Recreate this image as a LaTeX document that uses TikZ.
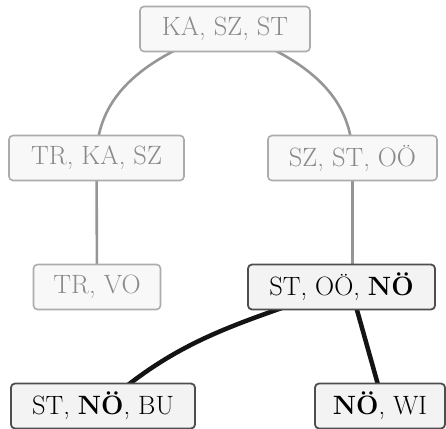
\documentclass[tikz,border=0pt]{standalone}
\usepackage{tikz}
\usetikzlibrary{backgrounds}
\begin{document}
\begin{tikzpicture}[x=1pt,y=-1pt,
  box/.style={rectangle, rounded corners=4pt, minimum height=45pt, inner xsep=0pt,
    font=\fontsize{26.5}{30}\selectfont},
  faded/.style={box, draw={rgb,255:red,172;green,172;blue,172}, line width=1.6pt,
    fill={rgb,255:red,248;green,248;blue,248}, text={rgb,255:red,138;green,138;blue,138}},
  active/.style={box, draw={rgb,255:red,78;green,78;blue,78}, line width=1.8pt,
    fill={rgb,255:red,243;green,243;blue,243}, text=black},
  fadededge/.style={draw={rgb,255:red,150;green,150;blue,150}, line width=2.6pt},
  activeedge/.style={draw={rgb,255:red,20;green,20;blue,20}, line width=4.5pt}]
\useasboundingbox (0,0) rectangle (446,428);

\node[faded, minimum width=170pt] (kss) at (225,29) {KA, SZ, ST};
\node[faded, minimum width=175pt] (tks) at (96.5,158) {TR, KA, SZ};
\node[faded, minimum width=169pt] (sso) at (352.5,158) {SZ, ST, OÖ};
\node[faded, minimum width=127pt] (tv) at (97,287) {TR, VO};
\node[active, minimum width=187pt] (son) at (341.5,287) {ST, OÖ, \textbf{NÖ}};
\node[active, minimum width=184pt] (snb) at (103,406) {ST, \textbf{NÖ}, BU};
\node[active, minimum width=130pt] (nw) at (380,406) {\textbf{NÖ}, WI};

% connectors, drawn behind the boxes
\begin{scope}[on background layer]
  \draw[fadededge] (tks.center) to[out=90, in=200] (kss.center);
  \draw[fadededge] (sso.center) to[out=90, in=-20] (kss.center);
  \draw[fadededge] (tks.center) -- (tv.center);
  \draw[fadededge] (sso.center) -- (sso.center |- son.center);
  \draw[activeedge] (son.center) to[out=200, in=42] (snb.center);
  \draw[activeedge] ([xshift=9pt]son.center) -- ([xshift=4pt]nw.center);
\end{scope}
\end{tikzpicture}
\end{document}
